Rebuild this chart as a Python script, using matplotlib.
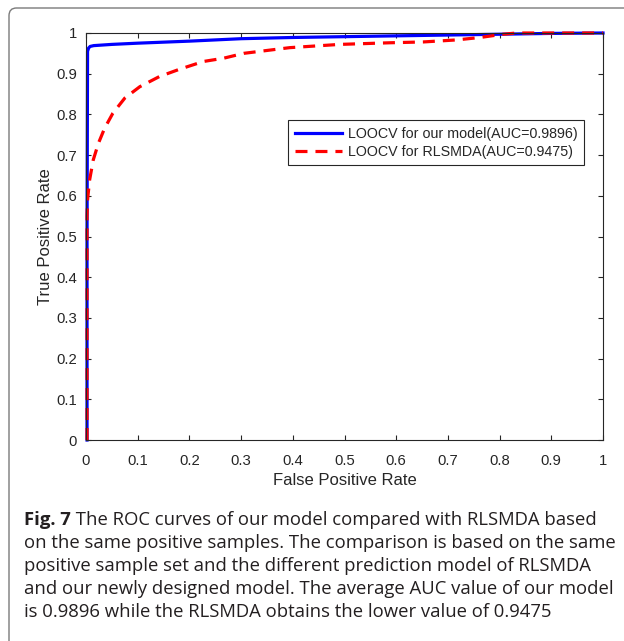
import numpy as np
import matplotlib
matplotlib.use("Agg")
import matplotlib.pyplot as plt
from matplotlib.patches import FancyBboxPatch

plt.rcParams['font.family'] = ['Liberation Sans', 'DejaVu Sans']

# ROC 曲线数据
fpr_ours = [0.002, 0.002, 0.003, 0.005, 0.008, 0.015, 0.05, 0.1, 0.2, 0.3, 0.4, 0.5, 0.6, 0.7, 0.8, 0.9, 1.0]
tpr_ours = [0.0, 0.5, 0.955, 0.963, 0.967, 0.969, 0.972, 0.975, 0.980, 0.986, 0.989, 0.991, 0.993, 0.995, 0.997, 0.999, 1.0]

fpr_rls = [0.002, 0.002, 0.003, 0.007, 0.014, 0.024, 0.036, 0.052, 0.075, 0.104, 0.142, 0.181,
           0.227, 0.266, 0.305, 0.394, 0.491, 0.588, 0.652, 0.717, 0.762, 0.807, 0.833, 1.0]
tpr_rls = [0.0, 0.55, 0.59, 0.639, 0.688, 0.729, 0.766, 0.803, 0.840, 0.868, 0.893, 0.911,
           0.930, 0.938, 0.950, 0.964, 0.972, 0.976, 0.978, 0.983, 0.989, 0.997, 1.0, 1.0]

labels = ['LOOCV for our model(AUC=0.9896)', 'LOOCV for RLSMDA(AUC=0.9475)']
ticks = np.round(np.arange(0, 1.01, 0.1), 1)
tick_labels = ['0', '0.1', '0.2', '0.3', '0.4', '0.5', '0.6', '0.7', '0.8', '0.9', '1']

caption_bold = 'Fig. 7'
caption_lines = [
    ' The ROC curves of our model compared with RLSMDA based',
    'on the same positive samples. The comparison is based on the same',
    'positive sample set and the different prediction model of RLSMDA',
    'and our newly designed model. The average AUC value of our model',
    'is 0.9896 while the RLSMDA obtains the lower value of 0.9475',
]

W, H = 624, 641
fig = plt.figure(figsize=(W / 100, H / 100), dpi=100)

# 外框（圆角）
frame = FancyBboxPatch((9 / W, -0.2), 1.2, (H - 8) / H + 0.2,
                       boxstyle="round,pad=0,rounding_size=0.012",
                       transform=fig.transFigure, fill=False,
                       edgecolor='#7a7a7a', linewidth=1.0)
fig.patches.append(frame)

ax = fig.add_axes([86 / W, (H - 440) / H, 517 / W, 407 / H])
ax.plot(fpr_ours, tpr_ours, color='#0000ff', linewidth=2.3, label=labels[0], clip_on=False)
ax.plot(fpr_rls, tpr_rls, color='#ff0000', linewidth=2.3, linestyle=(0, (3.75, 2.5)),
        label=labels[1], clip_on=False)

ax.set_xlim(0, 1)
ax.set_ylim(0, 1)
ax.set_xticks(ticks)
ax.set_yticks(ticks)
ax.set_xticklabels(tick_labels)
ax.set_yticklabels(tick_labels)
ax.tick_params(direction='in', length=3.5, width=0.8, top=True, right=True,
               labelsize=10.7, colors='#262626')
ax.tick_params(axis='x', pad=10)
ax.tick_params(axis='y', pad=6.5)
for s in ax.spines.values():
    s.set_color('#262626')
    s.set_linewidth(0.8)
ax.set_xlabel('False Positive Rate', fontsize=12, color='#262626', labelpad=3.5)
ax.set_ylabel('True Positive Rate', fontsize=12, color='#262626', labelpad=2.5)

leg = ax.legend(loc='upper left', bbox_to_anchor=(0.391, 0.786), borderaxespad=0,
                fontsize=10.3, handlelength=3.3, handletextpad=0.4, labelspacing=0.3,
                borderpad=0.45, fancybox=False, edgecolor='#262626', framealpha=1)
leg.get_frame().set_linewidth(0.8)
for t in leg.get_texts():
    t.set_color('#262626')

# 图注
cap_font = 'Open Sans'
cap_size = 13.3
x0 = 24 / W
baselines = [525, 548, 571, 594, 617]
t0 = fig.text(x0, 1 - baselines[0] / H, caption_bold, fontsize=cap_size, family=cap_font,
              fontweight='bold', va='baseline', ha='left', color='#231f20')
fig.canvas.draw()
bb = t0.get_window_extent()
fig.text(bb.x1 / W, 1 - baselines[0] / H, caption_lines[0], fontsize=cap_size, family=cap_font,
         va='baseline', ha='left', color='#231f20')
for line, b in zip(caption_lines[1:], baselines[1:]):
    fig.text(x0, 1 - b / H, line, fontsize=cap_size, family=cap_font,
             va='baseline', ha='left', color='#231f20')

plt.savefig('out.png', dpi=100)
